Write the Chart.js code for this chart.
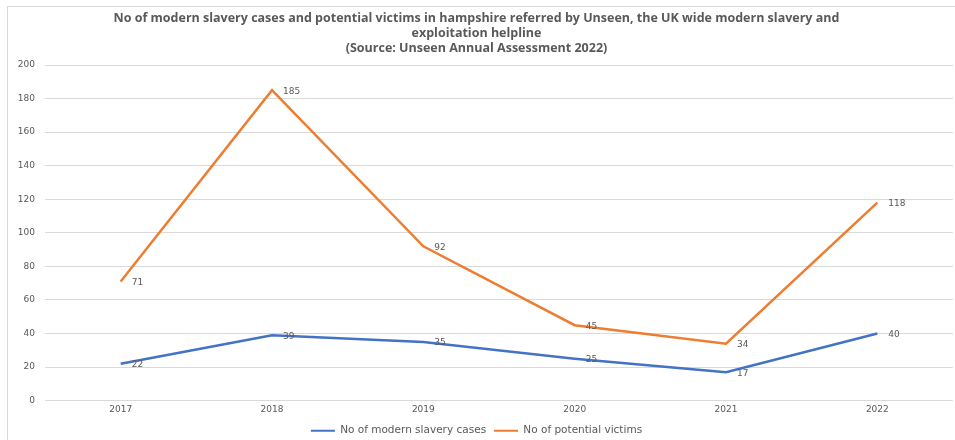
<!DOCTYPE html>
<html>
<head>
<meta charset="utf-8">
<script src="https://cdn.jsdelivr.net/npm/chart.js@4.4.0/dist/chart.umd.min.js"></script>
<style>
  html, body { margin: 0; padding: 0; background: #fff; }
  #frame { position: absolute; left: 7px; top: 6px; width: 948px; height: 434px;
           border-left: 1px solid #d9d9d9; border-top: 1px solid #d9d9d9; }
  #wrap { position: absolute; left: 0; top: 0; width: 955px; height: 440px; }
</style>
</head>
<body>
<div id="frame"></div>
<div id="wrap"><canvas id="myChart"></canvas></div>
<script>
const years = ["2017", "2018", "2019", "2020", "2021", "2022"];
const casesValues = [22, 39, 35, 25, 17, 40];
const victimsValues = [71, 185, 92, 45, 34, 118];
const yTicks = [0, 20, 40, 60, 80, 100, 120, 140, 160, 180, 200];

const titleLines = [
    "No of modern slavery cases and potential victims in hampshire referred by Unseen, the UK wide modern slavery and",
    "exploitation helpline",
    "(Source: Unseen Annual Assessment 2022)"
];

const grey = "#595959";
const titleFont = "'Open Sans', 'Liberation Sans', sans-serif";
const smallFont = "'DejaVu Sans', sans-serif";

// simple value labels to the right of each point
const pointLabels = {
    id: "pointLabels",
    afterDatasetsDraw(chart) {
        const ctx = chart.ctx;
        ctx.save();
        ctx.font = "9px " + smallFont;
        ctx.fillStyle = grey;
        ctx.textAlign = "left";
        ctx.textBaseline = "middle";
        chart.data.datasets.forEach((ds, i) => {
            chart.getDatasetMeta(i).data.forEach((pt, j) => {
                ctx.fillText(ds.data[j], pt.x + 11, pt.y + 1);
            });
        });
        ctx.restore();
    }
};

const data = {
    labels: years,
    datasets: [{
        label: "No of modern slavery cases",
        data: casesValues,
        borderColor: "#4472C4",
        backgroundColor: "#4472C4",
        borderWidth: 2.5,
        pointRadius: 0,
        tension: 0
    }, {
        label: "No of potential victims",
        data: victimsValues,
        borderColor: "#ED7D31",
        backgroundColor: "#ED7D31",
        borderWidth: 2.5,
        pointRadius: 0,
        tension: 0
    }]
};

const config = {
    type: "line",
    data: data,
    plugins: [pointLabels],
    options: {
        responsive: true,
        maintainAspectRatio: false,
        animation: false,
        layout: { padding: { left: 0, right: 2, top: 0, bottom: -6 } },
        plugins: {
            title: {
                display: true,
                text: titleLines,
                color: grey,
                font: { family: titleFont, size: 12.5, weight: "bold", lineHeight: 1.2 },
                padding: { top: 11, bottom: 9 }
            },
            legend: {
                position: "bottom",
                labels: {
                    color: grey,
                    font: { family: smallFont, size: 10.5 },
                    boxWidth: 24,
                    boxHeight: 2,
                    padding: 8,
                    generateLabels(chart) {
                        return Chart.defaults.plugins.legend.labels.generateLabels(chart)
                            .map(item => Object.assign(item, { lineWidth: 0 }));
                    }
                }
            },
            tooltip: { enabled: false }
        },
        scales: {
            x: {
                offset: true,
                grid: { display: false, drawTicks: false },
                border: { display: false },
                ticks: { color: grey, font: { family: smallFont, size: 9 }, padding: 4 },
                afterFit(axis) { axis.height -= 2; }
            },
            y: {
                min: 0,
                max: 200,
                afterBuildTicks(axis) { axis.ticks = yTicks.map(v => ({ value: v })); },
                afterFit(axis) { axis.width = 45; },
                grid: { color: "#d9d9d9", drawTicks: false },
                border: { display: false },
                ticks: { color: grey, font: { family: smallFont, size: 9 }, padding: 10 }
            }
        }
    }
};

myChart = new Chart(document.getElementById("myChart"), config);
</script>
</body>
</html>
